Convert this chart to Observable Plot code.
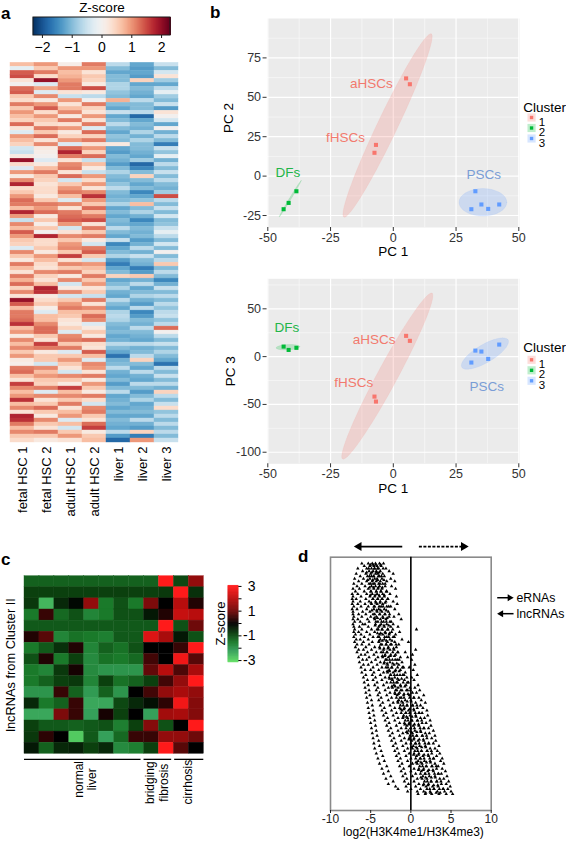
<!DOCTYPE html>
<html><head><meta charset="utf-8">
<script src="https://cdn.jsdelivr.net/npm/d3@7"></script>
<script src="https://cdn.jsdelivr.net/npm/@observablehq/plot@0.6"></script>
<style>
body{margin:0;background:#fff;}
#fig{position:relative;width:566px;height:841px;overflow:hidden;background:#fff;font-family:"Liberation Sans",Arial,Helvetica,sans-serif;}
.panel{position:absolute;}
.lab{position:absolute;font-weight:bold;font-size:17px;line-height:1;color:#000;}
</style></head><body><div id="fig"></div>
<script>
// ---------------- DATA ----------------
// Panel a: heatmap (rows top -> bottom), Z-score
const aSamples = ["fetal HSC 1","fetal HSC 2","adult HSC 1","adult HSC 2","liver 1","liver 2","liver 3"];
const fetalHSC1 = [0.7,-0.2,1.4,1.5,0.3,0,1.3,1.4,0.6,0.4,1.2,0.6,1.0,0.7,0.5,1.3,0.3,-0.3,1,0.7,0.5,-0.4,-0.5,0.2,2,0.4,-0.3,1,0.2,1.1,1.8,0.4,
 0.6,1,1.3,1.2,0.7,1.8,1,-0.5,1.1,0.7,1.4,1,0.6,0.5,-0.3,1.1,0.6,0.2,1.2,0.7,0.3,1.2,0.8,1.3,0.5,1.1,0.3,2,1.4,0.7,1.2,
 1.2,1.3,1.7,0.7,1,0.2,1.1,0.7,1.1,0.6,1,0.2,0.1,1.2,1.3,0.7,0.3,1.6,1.1,0.7,1,1.7,0.7,1.1,0.3,1.8,1.7,1.2,0.7,1.1,0.6,0.4];
const fetalHSC2 = [1,0.6,1.2,0.4,2,-0.3,0.9,-0.3,1.1,0.2,1.0,1.4,0.4,1,0.6,0.4,1.2,0.6,1.3,0.3,1.1,0.2,0.1,0,-0.3,0.2,0.7,1.2,0.6,0.5,0.3,0.4,
 0.4,0.2,0.6,1.2,1,1.3,0.2,0.6,0.1,0.6,0,1.8,0.4,0.4,0.6,0.2,1,0.7,0.4,0.3,1.1,0.5,0.3,0.7,1.8,1.7,0.2,0.4,0.6,0.1,-0.3,
 0.7,0.7,1.1,1.3,1.3,0.6,0.3,1.6,1.2,0.2,0.6,0.6,-0.4,1.1,0.7,1,0.6,0.5,1.2,-0.3,1.1,0.3,0.6,1.3,0.6,0.2,1.1,0.6,0.3,1.2,0.6,0.2];
const adultHSC1 = [0.1,1,0.7,0.8,1,1.2,1.2,0.3,-0.5,1,0.3,0.7,1.1,0.2,1.2,0.3,1,0.2,0.5,1,-0.3,1.3,1.8,1.2,0.3,1.1,1.2,0.3,1.3,-0.4,0.6,1,
 1.2,0.7,-0.3,1.1,0.3,1.2,1.3,1.4,1,-0.4,0.3,1.1,0.6,1,1.1,0.6,1.6,0.3,1.1,0.6,1.2,0.2,1.1,-0.4,0.2,1.1,-0.4,0.6,1,1.2,0.7,
 0.6,0.3,0.2,0.5,-0.3,1.1,1.2,0.6,1.2,-0.3,0.6,1,0.6,0.3,-0.4,1.1,0.6,0.2,1.6,0.7,1.1,0.6,1.2,0.3,0.7,1,-0.3,0.7,-0.4,0.6,1,0.3];
const adultHSC2 = [1.2,1,0.3,0.6,0.5,0.2,1.5,0.2,-0.6,0,1.2,0.5,0.3,1,0.3,1.2,-0.3,1.3,0.5,1.2,0.3,1,0.5,1.3,-0.5,0.7,0.2,-0.5,1,0.4,1,0.3,
 1.1,1.7,1,0.6,1.3,0.7,1.2,1.5,0.3,1.2,0.6,1.2,0.2,-0.4,1.2,1.4,0.6,-0.4,1,0.7,0.5,1.2,0.6,1,0.3,0.6,-0.5,1.2,0.3,1.1,0.7,
 1.3,1.1,-0.3,0.2,0.6,0.2,1.3,0.4,0.3,1.4,0.7,-0.3,1.1,1,0.3,1.2,0.2,1,0.6,0.2,1.2,0.4,-0.4,1.1,1.2,0.6,0.3,1.3,1.6,0.2,0.6,0.7];
const liver1 = [-0.6,-1,-1.2,-1,-1,-0.7,-0.7,-0.9,-1,0.8,-1,-1.2,-0.5,-1.2,-1,-0.6,-1,-1.2,-0.9,-1,0.2,-1.2,-1.3,-1,-1.1,-1.3,-1,-0.7,-1,-1.1,-0.9,-0.6,
 -1,-1.1,-1,-0.7,-1.2,-1,-1.2,-1,-1.1,-0.6,-1,-1.2,-0.5,-1.5,-1.2,-1,-0.7,-1.3,-1.6,-1.2,-1,0.5,-1.2,-1,-0.7,-1.1,-1.2,-0.6,-1,-1.2,-0.7,
 -0.6,-0.7,-1,-1.1,-1,-1.2,-1.1,-0.6,-1,-1.2,-1.7,-1.1,-1,-0.6,-1.1,-1.2,-1,-1.3,-1,-0.6,-1.2,-1.1,-1,-1.2,-1,-1.2,-1,-1.1,-1.2,-0.6,-1.3,-1.8];
const liver2 = [-1.2,-1.3,-1.2,-1.3,0.5,-1.2,-1,-1.1,-1.2,-0.6,-1,-1,-0.6,-1.8,-1.2,-1,-1.1,-0.7,-1.1,-0.7,-1,-1,-1.1,-1.2,-0.8,-1.8,-1.5,-1,0.5,-1,-1.2,-1,
 -1.5,-1.2,-0.9,0.7,-1,-0.7,-1.1,-1.5,-1.2,-1,-1.1,-1,-1.3,-1.1,-0.6,-1.1,-0.5,-1,-1.1,-1.6,-1.3,0.6,-1.1,-0.6,-1.2,-1,-0.7,-1.1,-1.3,-0.6,-1.5,
 -1.3,-1,-1.1,-0.6,-1,-1.1,-1.2,-0.6,-1.1,-1,-0.6,0.5,-1,-1.2,-0.6,-1.1,-1.2,-0.6,-1,-1.3,-1,-0.7,-1.2,-1.1,-1,-1.2,-0.6,-1.1,-1.3,0.5,-1.6,1];
const liver3 = [-0.5,-1,-0.4,0.3,-0.8,-1.2,-0.6,-0.2,-0.8,-1,-0.5,-1.3,0.3,0,-0.4,-1.2,0,-1.1,-0.6,-1,-1.6,-0.5,-0.9,-0.2,-1.1,-0.6,-1,-0.5,-1,-0.6,-1,-1.1,
 -0.8,1.5,-0.6,-1,-0.5,-1,-0.4,-1,-0.9,-0.5,-0.2,-0.6,-1,-0.4,-1,0,-1,-0.6,0.6,-1,-0.6,-1,-1.5,-1.1,-0.5,-1,-0.6,-1,-0.6,-0.9,-0.6,
 -0.5,-0.9,-0.6,1.3,0,-0.6,-1,-0.5,-1,-0.7,-1,-1.2,-1.7,-0.6,-1,-0.5,-1,-0.6,-1.1,0.5,-0.6,-1,-0.5,0.4,-0.9,-0.6,-1,-0.6,-1,-0.6,-1,-0.5];
const aColumns = [fetalHSC1,fetalHSC2,adultHSC1,adultHSC2,liver1,liver2,liver3];
const aTicks = [-2,-1,0,1,2];

// Panel b: PCA
const pcSample  = ["aHSC1","aHSC2","fHSC1","fHSC2","DF1","DF2","DF3","PSC1","PSC2","PSC3","PSC4","PSC5"];
const pc1       = [5.1, 6.6, -7.5, -6.9, -43.7, -41.7, -38.6, 32.7, 35.1, 42.2, 37.8, 31.1];
const pc2       = [62, 58.3, 14.8, 19.8, -21, -17, -9.6, -9.6, -18, -18, -20.8, -21];
const pc3       = [21.7, 16.5, -41.8, -47, 10.5, 7, 9.2, 6.3, 5.3, 12.6, -2.4, -6.2];
const pcCluster = ["1","1","1","1","2","2","2","3","3","3","3","3"];
const clusters = ["1","2","3"];
const clusterColor = {"1":"#F8766D","2":"#00BA38","3":"#619CFF"};
const labelColor = {"1":"#F27A6E","2":"#22B548","3":"#7A9DD6"};
const groupName = ["aHSCs","fHSCs","DFs","PSCs"];
const groupCluster = ["1","1","2","3"];
const groupLabelPC2 = [[-8.7,58.5],[-19,24.5],[-42,2.3],[36,1.2]];
const groupLabelPC3 = [[-7.6,17.8],[-15.8,-27.5],[-42.4,30.1],[37.2,-31]];
// ellipses: centre, half major axis vector (u), half minor axis vector (v)
const ellPC2 = [
  {cluster:"1", cx:-2.3, cy:32.1, ux:17.4, uy:58.1, vx:3.6, vy:-2.73},
  {cluster:"2", cx:-41.1, cy:-14.4, ux:4.4, uy:11.6, vx:0.3, vy:-0.3},
  {cluster:"3", cx:35.7, cy:-16.6, ux:9.5, uy:0, vx:0, vy:8.7}];
const ellPC3 = [
  {cluster:"1", cx:-2.4, cy:-20.4, ux:17.8, uy:86.7, vx:3.52, vy:-4.95},
  {cluster:"2", cx:-42, cy:9.8, ux:4.7, uy:0.6, vx:0, vy:2.8},
  {cluster:"3", cx:36.5, cy:3.2, ux:9.2, uy:14.3, vx:1.84, vy:-8.06}];
const pcXMajor = [-50,-25,0,25,50], pcXMinor = [-37.5,-12.5,12.5,37.5];
const pc2Major = [-25,0,25,50,75], pc2Minor = [-12.5,12.5,37.5,62.5,87.5];
const pc3Major = [-100,-50,0,50], pc3Minor = [-75,-25,25,75];

// Panel c: lncRNAs heatmap (16 rows x 12 samples)
const cValues = [
 [-1.2,-1.2,-1.2,-1.2,-1.2,-1.2,-1.2,-1.2,-1.2,3,-0.9,1.5],
 [-0.8,-0.8,-0.8,-0.8,-0.8,-0.8,-0.8,-0.8,-0.8,-0.7,3,-0.6],
 [-0.7,-2.5,-0.5,-0.1,1.5,-1.5,-1,-1.5,1.2,0,2,0.3],
 [-1.5,0.5,-1.3,-1,-1.7,-1.5,-1,-1,-0.3,0.3,2.2,2],
 [-1.1,-1.1,-1.1,-1.1,-1.1,-1.1,-1.1,-1.1,-1.1,3,-1,1],
 [0.3,0.8,-1.7,-1.4,-1.5,-1.6,-1.1,-1.1,2.5,1.8,-0.3,-1],
 [-1.5,-1.1,-0.6,0.3,-1.7,-1.2,-1.4,-1,0,0,0.5,3],
 [-1,0.3,-1.5,-0.8,-1.8,-1.4,-1.5,-1.3,0.6,0,2.8,0.8],
 [-1.5,-1.7,-0.7,0.2,-1.8,-2,-2,-2,0.9,2,0.7,1.8],
 [-1.5,-1.2,-0.8,-0.7,-1.7,-0.8,-1.4,-1.2,-0.8,0.6,1.5,3],
 [-2,-2,0.5,-1.2,-2.1,-1.2,-2,0,0.6,1.5,1.8,1.5],
 [-0.5,-1.5,-1.2,0.5,-2.3,-2.3,-0.9,-0.5,-0.2,0.4,2.8,1.3],
 [-2.3,-2.3,1.2,0.5,-2.2,0.2,-0.8,0,-2.2,1.7,1.8,1.3],
 [-0.8,-1.1,-1.1,-1.2,-1.1,-1,-1.6,-0.8,1.3,-1,0,3],
 [-0.7,0.4,0,-2.8,-1.1,-2.2,-1.3,0.5,0.5,1.5,1.5,1],
 [-0.3,-1.2,-0.5,-0.4,-0.8,-0.5,-1.8,-1.6,-0.8,3,0.8,0]];
const cGroupLabel = ["normal\nliver","bridging\nfibrosis","cirrhosis"];
const cGroupStart = [0, 8, 10.05];
const cGroupEnd   = [7.8, 9.85, 12];
const cGroupTextX = [4.05, 8.86, 10.9];
const cGroupTextY = [18.3, 18.6, 18.55];
const cTicks = [-3,-1,1,3];

// Panel d: log2(H3K4me1/H3K4me3) per rank level (top -> bottom)
const dLevelY = d3.range(97.5, 6, -1);
const dLevelX = [
 [-6.1,-5.3,-4.8,-4.4,-3.9,-3.4],
 [-5.8,-5.1,-4.6,-4.2,-3.7],
 [-6.6,-5.5,-4.9,-4.5,-4.0,-3.1],
 [-6.0,-5.2,-4.7,-4.3,-3.8,-2.7],
 [-6.8,-5.6,-5.0,-4.4,-4.1,-3.5,-2.2],
 [-6.3,-5.4,-4.9,-4.6,-3.9,-3.3],
 [-7.0,-5.9,-5.1,-4.5,-4.2,-3.6,-2.5],
 [-6.5,-5.5,-4.8,-4.3,-3.8,-3.0,-2.0],
 [-7.1,-6.1,-5.2,-4.7,-4.0,-3.5],
 [-6.7,-5.7,-4.9,-4.4,-3.9,-3.2,-2.4],
 [-7.2,-6.4,-5.3,-4.6,-4.1,-3.6,-1.9],
 [-6.9,-5.8,-5.0,-4.3,-3.7,-3.0],
 [-7.3,-6.6,-5.5,-4.8,-4.2,-3.5,-2.6],
 [-7.2,-6.2,-5.1,-4.5,-3.9,-3.3,-1.8],
 [-7.3,-6.8,-5.6,-4.7,-4.1,-3.6,-2.9],
 [-7.2,-6.3,-5.2,-4.4,-3.8,-3.1,-2.2],
 [-7.3,-6.6,-5.7,-4.9,-4.2,-3.5,-1.7],
 [-7.1,-6.2,-5.3,-4.5,-3.7,-3.0,-2.5],
 [-7.3,-6.7,-5.5,-4.6,-4.0,-3.3,-2.0],
 [-7.2,-6.0,-5.1,-4.2,-3.6,-2.8],
 [-7.2,-6.5,-5.6,-4.7,-3.9,-3.2,-1.5],
 [-7.1,-6.1,-5.0,-4.3,-3.5,-2.7,-2.1],
 [-7.2,-6.6,-5.4,-4.5,-3.8,-3.1,-1.2],
 [-7.0,-6.3,-5.2,-4.1,-3.4,-2.6],
 [-7.2,-6.0,-5.7,-4.4,-3.7,-3.0,-2.2],
 [-7.1,-6.4,-5.3,-4.0,-3.3,-2.5,-1.6],
 [-7.0,-6.1,-4.9,-4.2,-3.6,-2.9,0.7],
 [-7.1,-6.5,-5.5,-4.5,-3.2,-2.4,-1.4],
 [-6.9,-6.2,-5.1,-3.9,-3.5,-2.7,-1.9],
 [-7.1,-5.8,-4.7,-4.1,-3.0,-2.2],
 [-6.8,-6.3,-5.3,-3.8,-3.3,-2.6,-1.1],
 [-7.0,-5.9,-4.8,-4.0,-2.9,-2.0,-0.3],
 [-6.7,-6.1,-5.2,-3.6,-3.1,-2.4,-1.5],
 [-6.9,-5.6,-4.5,-3.9,-2.8,-1.8],
 [-6.5,-5.9,-4.9,-3.4,-2.6,-2.1,0.6],
 [-6.7,-5.4,-4.3,-3.7,-3.0,-1.6,-0.7],
 [-6.2,-5.7,-4.6,-3.2,-2.5,-1.9,0.2],
 [-6.5,-5.2,-4.1,-3.5,-2.8,-1.3,-0.4],
 [-6.0,-5.5,-4.4,-3.0,-2.3,-1.7,0.1],
 [-6.4,-4.9,-3.8,-3.3,-2.6,-1.1],
 [-5.9,-5.3,-4.2,-2.9,-2.1,-1.5,0.5],
 [-6.2,-4.7,-3.6,-3.1,-2.4,-0.9,-0.2],
 [-5.7,-5.0,-4.0,-2.7,-1.9,-1.3,0.3],
 [-6.1,-4.6,-3.4,-2.9,-2.2,-0.7],
 [-5.6,-4.8,-3.8,-2.5,-1.7,-1.0,0.8],
 [-5.9,-4.4,-3.2,-2.7,-2.0,-0.5,0.1],
 [-5.4,-4.7,-3.6,-2.3,-1.5,-0.8,0.4],
 [-5.8,-4.2,-3.0,-2.5,-1.8,-0.3],
 [-5.3,-4.5,-3.4,-2.1,-1.3,-0.6,0.9],
 [-5.7,-4.1,-2.8,-2.3,-1.6,-0.1,0.5],
 [-5.2,-4.3,-3.2,-1.9,-1.1,-0.4,1.1],
 [-5.6,-3.9,-2.6,-2.0,-1.4,0.2,0.7],
 [-5.1,-4.1,-3.0,-1.7,-0.9,-0.2,1.6],
 [-5.5,-3.7,-2.4,-1.8,-1.2,0.4,1.0],
 [-4.9,-4.0,-2.8,-1.5,-0.7,0.0,1.3],
 [-5.4,-3.5,-2.2,-1.6,-1.0,0.6,1.8],
 [-4.8,-3.8,-2.6,-1.3,-0.5,0.2,1.2],
 [-5.3,-3.3,-2.0,-1.4,-0.8,0.8,1.5],
 [-4.7,-3.6,-2.4,-1.1,-0.3,0.4,2.0],
 [-5.2,-3.1,-1.8,-1.2,-0.6,1.0,1.4],
 [-4.6,-3.4,-2.2,-0.9,-0.1,0.6,2.1],
 [-5.1,-2.9,-1.6,-1.0,-0.4,1.2,1.7],
 [-4.5,-3.2,-2.0,-0.7,0.1,0.8,2.4],
 [-5.0,-2.7,-1.4,-0.8,-0.2,1.4,1.9],
 [-4.4,-3.0,-1.8,-0.5,0.3,1.0,2.5],
 [-4.9,-2.5,-1.2,-0.6,0.0,1.6,2.2],
 [-4.3,-2.8,-1.6,-0.3,0.5,1.2,2.8],
 [-4.8,-2.3,-1.0,-0.4,0.2,1.8,2.3],
 [-4.2,-2.6,-1.4,-0.1,0.7,1.4,3.0],
 [-4.7,-2.1,-0.8,-0.2,0.4,2.0,2.6],
 [-4.0,-2.4,-1.2,0.1,0.9,1.6,3.1],
 [-4.6,-1.9,-0.6,0.0,0.6,2.2,2.8],
 [-3.9,-2.2,-1.0,0.3,1.1,1.8,3.5],
 [-4.5,-1.7,-0.4,0.2,0.8,2.4,3.0],
 [-3.7,-2.0,-0.8,0.5,1.3,2.0,3.3],
 [-4.3,-1.5,-0.2,0.4,1.0,2.6,3.6],
 [-3.5,-1.8,-0.6,0.7,1.5,2.2,3.2],
 [-4.1,-1.3,0.0,0.6,1.2,2.8,3.9],
 [-3.3,-1.6,-0.4,0.9,1.7,2.4,3.7],
 [-3.9,-1.1,0.2,0.8,1.4,3.0,4.1],
 [-3.0,-1.4,-0.2,1.1,1.9,2.6,3.4],
 [-3.6,-0.9,0.4,1.0,1.6,3.2,3.9],
 [-2.8,-1.2,0.0,1.3,2.1,2.8,4.3],
 [-3.4,-0.7,0.6,1.2,1.8,3.4,3.8],
 [-2.5,-1.0,0.2,1.5,2.3,3.0,4.5],
 [-3.1,-0.5,0.8,1.4,2.0,3.6,4.1],
 [-2.2,-0.8,0.4,1.7,2.5,3.2,4.7],
 [-2.8,-0.3,1.0,1.6,2.2,3.8,4.4],
 [-1.9,-0.6,0.6,1.9,2.7,3.4,4.9],
 [-1.6,0.0,1.2,2.0,2.9,4.0,4.6],
 [-0.4,0.8,1.6,2.4,3.3,4.2,5.0],
 [0.9,1.8,2.6,3.5,4.4,5.2]];
// dense core of the cloud, read between the levels above
const dCoreY = d3.range(97, 6.9, -1.5);
const dCoreX = [
 [-5.05,-4.35,-3.75,-4.7],[-5.25,-4.55,-4.15,-3.45],[-4.85,-4.25,-3.95,-5.5],[-5.15,-4.65,-3.65,-4.05],
 [-4.75,-4.15,-3.35,-5.35],[-5.0,-4.5,-3.85,-3.2],[-4.65,-4.05,-3.55,-5.15],[-4.95,-4.3,-3.75,-3.05],
 [-4.45,-3.95,-3.3,-5.05],[-4.75,-4.15,-3.55,-2.85],[-4.35,-3.85,-3.2,-4.95],[-4.6,-3.95,-3.45,-2.75],
 [-4.25,-3.75,-3.05,-4.85],[-4.5,-3.85,-3.25,-2.65],[-4.15,-3.45,-2.95,-4.55],[-4.35,-3.65,-3.05,-2.45],
 [-3.85,-3.35,-2.75,-4.45],[-4.05,-3.55,-2.85,-2.25],[-3.75,-3.15,-2.65,-4.15],[-3.95,-3.25,-2.75,-2.05],
 [-3.55,-3.05,-2.35,-3.95],[-3.75,-3.05,-2.55,-1.85],[-3.35,-2.85,-2.15,-3.85],[-3.45,-2.95,-2.25,-1.65],
 [-3.25,-2.55,-2.05,-3.55],[-3.15,-2.65,-1.95,-1.45],[-2.95,-2.25,-1.75,-3.35],[-2.85,-2.35,-1.65,-1.05],
 [-2.65,-1.95,-1.45,-2.95],[-2.55,-2.05,-1.35,-0.85],[-2.35,-1.65,-1.15,-2.65],[-2.15,-1.65,-0.95,-0.45],
 [-1.95,-1.25,-0.75,-2.35],[-1.75,-1.25,-0.55,-0.05],[-1.55,-0.85,-0.35,-1.95],[-1.35,-0.85,-0.15,0.35],
 [-1.15,-0.45,0.05,-1.65],[-0.95,-0.45,0.25,0.75],[-0.85,-0.15,0.35,-1.25],[-0.65,-0.15,0.55,1.05],
 [-0.55,0.15,0.65,-0.95],[-0.35,0.15,0.85,1.35],[-0.25,0.45,0.95,-0.75],[-0.05,0.45,1.15,1.65],
 [0.05,0.75,1.25,-0.55],[0.25,0.75,1.45,1.95],[0.35,1.05,1.55,-0.25],[0.55,1.05,1.75,2.25],
 [0.65,1.35,1.85,0.05],[0.85,1.35,2.05,2.55],[0.95,1.65,2.15,0.35],[1.15,1.65,2.35,2.85],
 [1.25,1.95,2.45,0.65],[1.45,1.95,2.65,3.15],[1.55,2.25,2.75,0.95],[1.75,2.25,2.95,3.45],
 [1.85,2.55,3.05,1.25],[2.05,2.55,3.25,3.75],[2.15,2.85,3.35,1.55],[2.35,2.85,3.55,4.05],
 [2.45,3.15,3.65,1.85]];
const dTicks = [-10,-5,0,5,10];
// direction arrows above panel d and legend arrows
const dTopArrows = [{from:-1.07, to:-7.1, dashed:false},{from:1.0, to:7.2, dashed:true}];
const dLegend = [{name:"eRNAs", from:10.75, to:12.78, y:84},{name:"lncRNAs", from:12.78, to:10.75, y:77.7}];

// ---------------- DRAWING ----------------
const FONT = '"Liberation Sans", Arial, Helvetica, sans-serif';
const baseStyle = {fontFamily: FONT, fontSize: "12px", overflow: "visible", background: "none", color: "#000"};
const fig = document.getElementById("fig");
function place(node, left, top){ const d=document.createElement("div"); d.className="panel"; d.style.left=left+"px"; d.style.top=top+"px"; d.appendChild(node); fig.appendChild(d); }
function label(t, left, top){ const d=document.createElement("div"); d.className="lab"; d.textContent=t; d.style.left=left+"px"; d.style.top=top+"px"; fig.appendChild(d); }

// ---- Panel a colour bar
const aColor = {type:"linear", scheme:"rdbu", reverse:true, domain:[-2.3,2.3]};
place(Plot.plot({
  width:200, height:56, margin:0, style:baseStyle,
  x:{domain:[-2.3,2.3], range:[33,170], axis:null},
  y:{domain:[0,56], range:[0,56], axis:null},
  color:aColor,
  marks:[
    Plot.ruleX(d3.range(-2.3,2.3,0.01), {x:d=>d, y1:17, y2:35, stroke:d=>d, strokeWidth:1.5}),
    Plot.rect([0], {x1:-2.3, x2:2.3, y1:17, y2:35, fill:"none", stroke:"#1a1a1a", strokeWidth:1}),
    Plot.ruleX(aTicks, {x:d=>d, y1:35, y2:38, stroke:"#1a1a1a"}),
    Plot.text(aTicks, {x:d=>d, y:47.5, text:d=> d<0 ? "\u2212"+(-d) : String(d), fontSize:14}),
    Plot.text(["Z-score"], {x:0, y:7, text:d=>d, fontSize:13.5})
  ]
}), 0, 0);

// ---- Panel a heatmap
const aCells = aColumns.flatMap((col,j)=>col.map((z,i)=>({sample:aSamples[j], row:i, z})));
place(Plot.plot({
  width:190, height:470, marginLeft:7, marginRight:10, marginTop:7.3, marginBottom:83, style:baseStyle,
  x:{domain:aSamples, padding:0, axis:null},
  y:{domain:d3.range(fetalHSC1.length), padding:0, axis:null},
  color:aColor,
  marks:[
    Plot.cell(aCells, {x:"sample", y:"row", fill:"z", stroke:"z", strokeWidth:0.4, inset:0}),
    Plot.axisX({tickRotate:-90, tickSize:0, tickPadding:4, fontSize:13, label:null})
  ]
}), 0, 55);

// ---- Panel b (PCA)
const pcData = pcSample.map((s,i)=>({sample:s, pc1:pc1[i], pc2:pc2[i], pc3:pc3[i], cluster:pcCluster[i]}));
function ellipsePts(e){ return d3.range(0, 2*Math.PI+1e-6, Math.PI/48).map(t=>({x:e.cx+e.ux*Math.cos(t)+e.vx*Math.sin(t), y:e.cy+e.uy*Math.cos(t)+e.vy*Math.sin(t)})); }
function legendMarks(dyTitle, dyKeys){
  const m=[Plot.text(["Cluster"], {frameAnchor:"top-right", dx:3.7, dy:dyTitle, text:d=>d, textAnchor:"start", fontSize:13.5})];
  clusters.forEach((c,i)=>{
    m.push(Plot.dot([c], {frameAnchor:"top-right", dx:12, dy:dyKeys[i], symbol:"square", r:4.6, fill:clusterColor[c], fillOpacity:0.25, stroke:"none"}));
    m.push(Plot.dot([c], {frameAnchor:"top-right", dx:12, dy:dyKeys[i], symbol:"square", r:1.9, fill:clusterColor[c], stroke:"none"}));
    m.push(Plot.text([c], {frameAnchor:"top-right", dx:19.3, dy:dyKeys[i], text:d=>d, textAnchor:"start", fontSize:11.5}));
  });
  return m;
}
function pcaPlot(cfg){
  return Plot.plot({
    width:356, height:cfg.height, marginLeft:56.55, marginRight:46.95, marginTop:cfg.mt, marginBottom:cfg.mb, style:baseStyle,
    x:{domain:[-50.3,50.3]}, y:{domain:cfg.yDomain},
    marks:[
      Plot.frame({fill:"#ebebeb", stroke:"none"}),
      Plot.ruleX(pcXMinor, {stroke:"#fafafa", strokeWidth:0.6}),
      Plot.ruleY(cfg.yMinor, {stroke:"#fafafa", strokeWidth:0.6}),
      Plot.ruleX(pcXMajor, {stroke:"white", strokeWidth:1.2}),
      Plot.ruleY(cfg.yMajor, {stroke:"white", strokeWidth:1.2}),
      ...cfg.ells.map(e=>Plot.line(ellipsePts(e), {x:"x", y:"y", curve:"linear-closed", fill:clusterColor[e.cluster], fillOpacity:0.22, stroke:clusterColor[e.cluster], strokeOpacity:0.15, strokeWidth:0.6})),
      Plot.dot(pcData, {x:"pc1", y:cfg.yKey, symbol:"square", r:2.3, fill:d=>clusterColor[d.cluster], stroke:"none"}),
      Plot.text(groupName.map((g,i)=>({g, c:groupCluster[i], x:cfg.lab[i][0], y:cfg.lab[i][1]})), {x:"x", y:"y", text:"g", fill:d=>labelColor[d.c], fontSize:13.5}),
      Plot.axisX({ticks:pcXMajor, tickSize:4, tickPadding:1.5, fontSize:12.5, tickFormat:d=>String(d), label:null, color:"#333"}),
      Plot.axisY({ticks:cfg.yMajor, tickSize:4, tickPadding:2, fontSize:12.5, tickFormat:d=>String(d), label:null, color:"#333"}),
      Plot.text(["PC 1"], {frameAnchor:"bottom", dy:cfg.xtDy, text:d=>d, fontSize:13.5}),
      Plot.text([cfg.yTitle], {frameAnchor:"left", dx:cfg.ytDx, dy:cfg.ytDy, text:d=>d, rotate:-90, textAnchor:"middle", fontSize:13.5}),
      ...legendMarks(cfg.legTitle, cfg.legKeys)
    ]
  });
}
place(pcaPlot({height:270, mt:18, mb:43, yDomain:[-32.6,100], yKey:"pc2", yMajor:pc2Major, yMinor:pc2Minor, ells:ellPC2, lab:groupLabelPC2,
  xtDy:28, yTitle:"PC 2", ytDx:-38, ytDy:-5, legTitle:84, legKeys:[99,109.5,120]}), 210, 0);
place(pcaPlot({height:250, mt:8.3, mb:56.7, yDomain:[-112.1,81.4], yKey:"pc3", yMajor:pc3Major, yMinor:pc3Minor, ells:ellPC3, lab:groupLabelPC3,
  xtDy:29, yTitle:"PC 3", ytDx:-36, ytDy:0, legTitle:64, legKeys:[81,91.5,102]}), 210, 270);

// ---- Panel c heatmap
const cColor = {type:"linear", domain:[-3,-2.2,-1.5,-0.8,0,1,2,3], range:["#5cd862","#35a05a","#1a7a2a","#0b400e","#000000","#6e0a0a","#b80d0d","#ff1a1a"], interpolate:"rgb"};
const cCells = cValues.flatMap((row,i)=>row.map((z,j)=>({row:i, col:j, z})));
const cGroups = cGroupLabel.map((g,i)=>({g, x1:cGroupStart[i], x2:cGroupEnd[i], tx:cGroupTextX[i], ty:cGroupTextY[i]}));
place(Plot.plot({
  width:210, height:281, marginLeft:24, marginRight:6.7, marginTop:15.7, marginBottom:87.7, style:baseStyle,
  x:{domain:[0,12], axis:null}, y:{domain:[0,16], range:[15.7,193.3], axis:null},
  color:cColor,
  marks:[
    Plot.rect(cCells, {x1:"col", x2:d=>d.col+1, y1:"row", y2:d=>d.row+1, fill:"z", stroke:"z", strokeWidth:0.4}),
    Plot.ruleY(cGroups, {y:16.5, x1:"x1", x2:"x2", stroke:"#000", strokeWidth:1.3}),
    Plot.text(cGroups, {x:"tx", y:"ty", text:"g", rotate:-90, textAnchor:"middle", lineAnchor:"middle", lineHeight:1.15, fontSize:12}),
    Plot.text(["lncRNAs from Cluster II"], {frameAnchor:"left", dx:-14, text:d=>d, rotate:-90, textAnchor:"middle", fontSize:12.8})
  ]
}), 0, 560);

// ---- Panel c colour bar
place(Plot.plot({
  width:60, height:100, margin:0, style:baseStyle,
  x:{domain:[0,60], range:[0,60], axis:null}, y:{domain:[-3.1,3.1], range:[91.3,14.7], axis:null},
  color:cColor,
  marks:[
    Plot.ruleY(d3.range(-3.1,3.1,0.03), {y:d=>d, x1:22.7, x2:33.3, stroke:d=>d, strokeWidth:0.8}),
    Plot.ruleY(d3.range(-3,4,1), {y:d=>d, x1:33.3, x2:36.5, stroke:"#000", strokeWidth:1}),
    Plot.text(cTicks, {y:d=>d, x:50, text:d=>String(d), textAnchor:"end", fontSize:14}),
    Plot.text(["Z-score"], {x:15, y:0, text:d=>d, rotate:-90, fontSize:13})
  ]
}), 205, 570);

// ---- Panel d scatter
const dPoints = dLevelY.flatMap((y,i)=>dLevelX[i].map(x=>({x, y})))
  .concat(dCoreY.flatMap((y,i)=>dCoreX[i].map(x=>({x, y}))));
const headOffset = 0.64;
const headX = d=>d.to + (d.to<d.from ? headOffset : -headOffset);
const legHeadX = d=>d.to + (d.to<d.from ? 0.48 : -0.48);
place(Plot.plot({
  width:276, height:301, marginLeft:40, marginRight:75.3, marginTop:16.7, marginBottom:31, style:baseStyle,
  x:{domain:[-10,10]}, y:{domain:[0,100], axis:null},
  marks:[
    Plot.frame({stroke:"#8a8a8a", strokeWidth:1.6}),
    Plot.ruleX([0], {stroke:"#000", strokeWidth:1.6}),
    Plot.dot(dPoints, {x:"x", y:"y", symbol:"triangle", r:1.3, fill:"#000", stroke:"none"}),
    Plot.axisX({ticks:dTicks, tickSize:3, tickPadding:0.5, fontSize:12, tickFormat:d=>String(d), label:null, color:"#222"}),
    Plot.text(["log2(H3K4me1/H3K4me3)"], {frameAnchor:"bottom", dx:2.6, dy:25.3, text:d=>d, fontSize:12}),
    // direction arrows above the panel
    Plot.link(dTopArrows.filter(d=>!d.dashed), {x1:"from", x2:headX, y1:104.2, y2:104.2, stroke:"#000", strokeWidth:1.8}),
    Plot.link(dTopArrows.filter(d=>d.dashed), {x1:"from", x2:headX, y1:104.2, y2:104.2, stroke:"#000", strokeWidth:1.8, strokeDasharray:"3,1.5"}),
    Plot.dot(dTopArrows, {x:headX, y:104.2, symbol:"triangle", r:3.3, rotate:d=>d.to<d.from?-90:90, fill:"#000", stroke:"none"}),
    // legend arrows
    Plot.link(dLegend, {x1:"from", x2:legHeadX, y1:"y", y2:"y", stroke:"#000", strokeWidth:1.5}),
    Plot.dot(dLegend, {x:legHeadX, y:"y", symbol:"triangle", r:2.6, rotate:d=>d.to<d.from?-90:90, fill:"#000", stroke:"none"}),
    Plot.text(dLegend, {x:13.15, y:"y", text:"name", textAnchor:"start", fontSize:12.3})
  ]
}), 290, 540);

label("a", 1, 5); label("b", 210, 4); label("c", 1, 551); label("d", 298, 548);
</script></body></html>
